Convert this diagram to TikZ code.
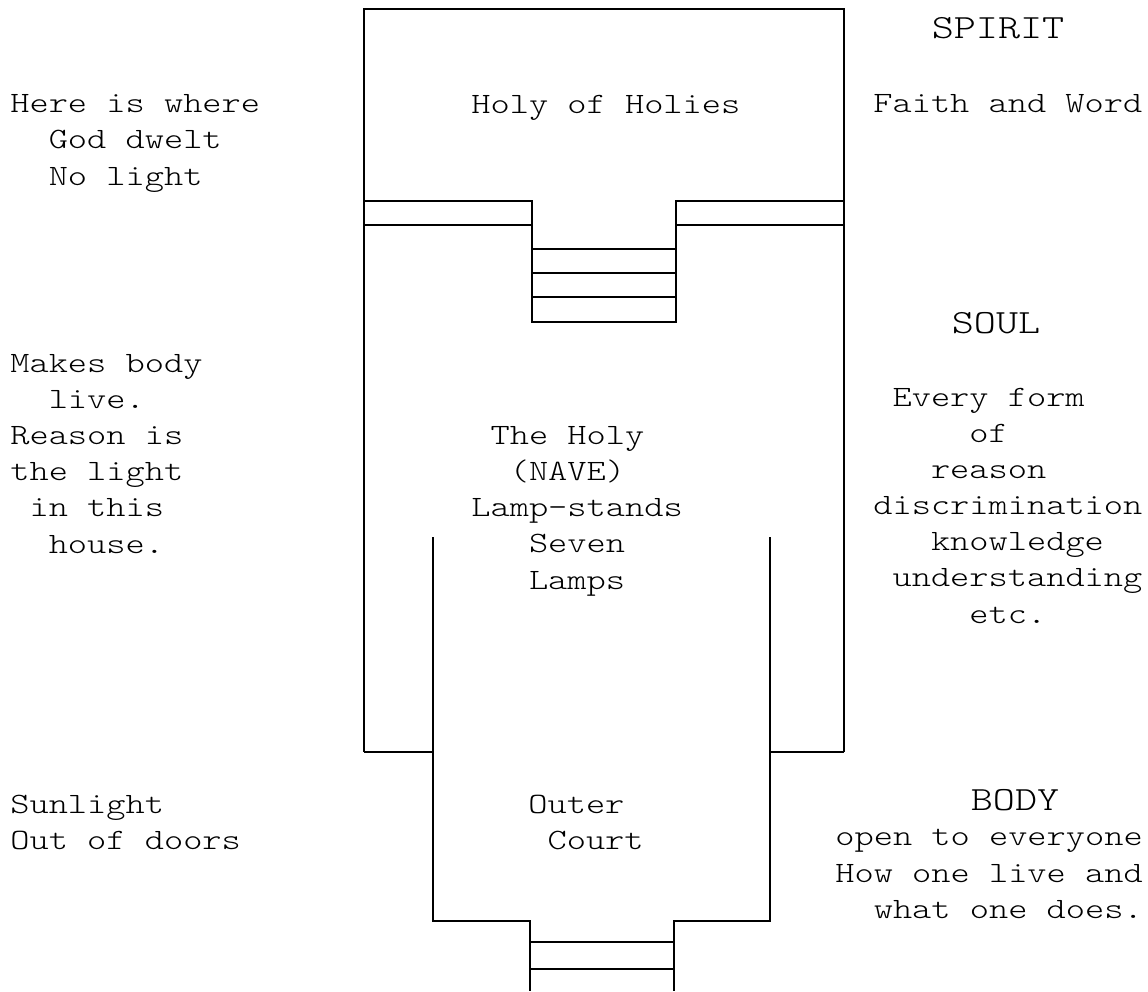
\documentclass[tikz,border=0pt]{standalone}
\usepackage{fontspec}
\setmainfont{Latin Modern Mono Light}[FakeStretch=1.24]
\usepackage{tikz}
\tikzset{
  wall/.style={line width=1.2pt},
  txt/.style={align=left,anchor=base west,inner sep=0pt,font=\fontsize{16.8}{20.5}\selectfont},
  head/.style={anchor=base,inner sep=0pt,font=\fontsize{19.3}{24}\selectfont}
}
\begin{document}
\begin{tikzpicture}[x=0.02cm,y=-0.02cm]
  \useasboundingbox (0,0) rectangle (1148,991);
  % holy of holies and the nave
  \draw[wall] (364,752) -- (364,9) -- (844,9) -- (844,752);
  \draw[wall] (364,201) -- (532,201) -- (532,322) -- (676,322) -- (676,201) -- (844,201);
  \draw[wall] (364,225) -- (532,225);
  \draw[wall] (676,225) -- (844,225);
  \draw[wall] (532,249) -- (676,249);
  \draw[wall] (532,273) -- (676,273);
  \draw[wall] (532,297) -- (676,297);
  \draw[wall] (364,752) -- (433,752);
  \draw[wall] (770,752) -- (844,752);
  % outer court
  \draw[wall] (433,537) -- (433,921) -- (530,921) -- (530,991);
  \draw[wall] (770,537) -- (770,921) -- (674,921) -- (674,991);
  \draw[wall] (530,942) -- (674,942);
  \draw[wall] (530,969) -- (674,969);
  % left notes (anchored at the last line)
  \node[txt] (dwelt) at (10,185) {Here is where\\\ \ God dwelt\\\ \ No light};
  \node[txt] (reason) at (10,553) {Makes body\\\ \ live.\\Reason is\\the light\\\ in this\\\ \ house.};
  \node[txt] (sun) at (10,849) {Sunlight\\Out of doors};
  % rooms
  \node[txt] (holies) at (471,113) {Holy of Holies};
  \node[txt] (nave) at (471,589) {\ The Holy\\\ \ (NAVE)\\Lamp-stands\\\ \ \ Seven\\\ \ \ Lamps};
  \node[txt] (court) at (528,849) {Outer\\\ Court};
  % right notes
  \node[head] (spirit) at (998,38) {SPIRIT};
  \node[txt] (faith) at (873,112) {Faith and Word};
  \node[head] (soul) at (996,333) {SOUL};
  \node[txt] (forms) at (873,623) {\ Every form\\\ \ \ \ \ of\\\ \ \ reason\\discrimination\\\ \ \ knowledge\\\ understanding\\\ \ \ \ \ etc.};
  \node[head] (body) at (1015,810) {BODY};
  \node[txt] (open) at (835,918) {open to everyone\\How one live and\\\ \ what one does.};
\end{tikzpicture}
\end{document}
